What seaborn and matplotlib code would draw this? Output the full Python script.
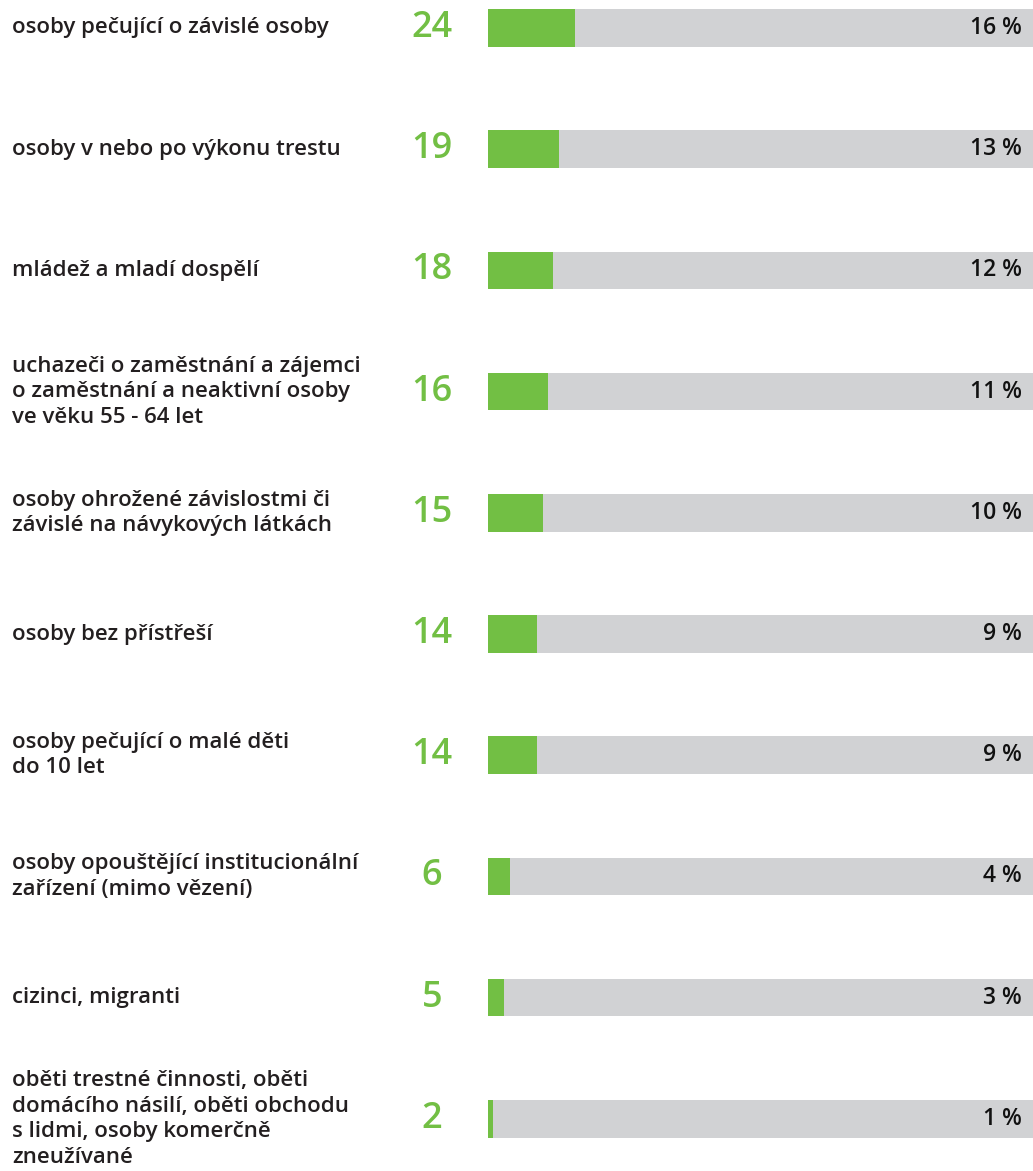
import matplotlib
matplotlib.use("Agg")
import matplotlib.pyplot as plt
import pandas as pd
import seaborn as sns

# data
labels = [
    "osoby pečující o závislé osoby",
    "osoby v nebo po výkonu trestu",
    "mládež a mladí dospělí",
    "uchazeči o zaměstnání a zájemci\no zaměstnání a neaktivní osoby\nve věku 55 - 64 let",
    "osoby ohrožené závislostmi či\nzávislé na návykových látkách",
    "osoby bez přístřeší",
    "osoby pečující o malé děti\ndo 10 let",
    "osoby opouštějící institucionální\nzařízení (mimo vězení)",
    "cizinci, migranti",
    "oběti trestné činnosti, oběti\ndomácího násilí, oběti obchodu\ns lidmi, osoby komerčně\nzneužívané",
]
counts = [24, 19, 18, 16, 15, 14, 14, 6, 5, 2]
percents = [16, 13, 12, 11, 10, 9, 9, 4, 3, 1]

GREEN = "#72bf44"
GREY = "#d1d2d4"
TEXT = "#231f20"

df = pd.DataFrame({"label": labels, "count": counts, "pct": percents})
df["full"] = 100

sns.set_theme(style="white")
plt.rcParams["font.family"] = ["Open Sans", "DejaVu Sans"]

W, H = 1033, 1171
fig = plt.figure(figsize=(W / 100, H / 100), dpi=100)
ax = fig.add_axes([488 / W, 0, 545 / W, 1])

sns.barplot(data=df, x="full", y="label", color=GREY, width=0.31,
            saturation=1, linewidth=0, ax=ax, orient="h")
sns.barplot(data=df, x="pct", y="label", color=GREEN, width=0.31,
            saturation=1, linewidth=0, ax=ax, orient="h")

ax.set_xlim(0, 100)
ax.set_ylim(9.43, -0.231)
ax.axis("off")

for i, row in df.iterrows():
    ax.text(-476 / 545 * 100, i, row["label"], ha="left", va="center",
            fontsize=16, fontweight="semibold", color=TEXT,
            linespacing=1.28)
    ax.text(-56 / 545 * 100, i, str(row["count"]), ha="center", va="center",
            fontsize=26, fontweight="semibold", color=GREEN)
    ax.text(98, i, f"{row['pct']} %", ha="right", va="center",
            fontsize=16.5, fontweight="semibold", color="#111111")

fig.savefig("out.png", dpi=100)
